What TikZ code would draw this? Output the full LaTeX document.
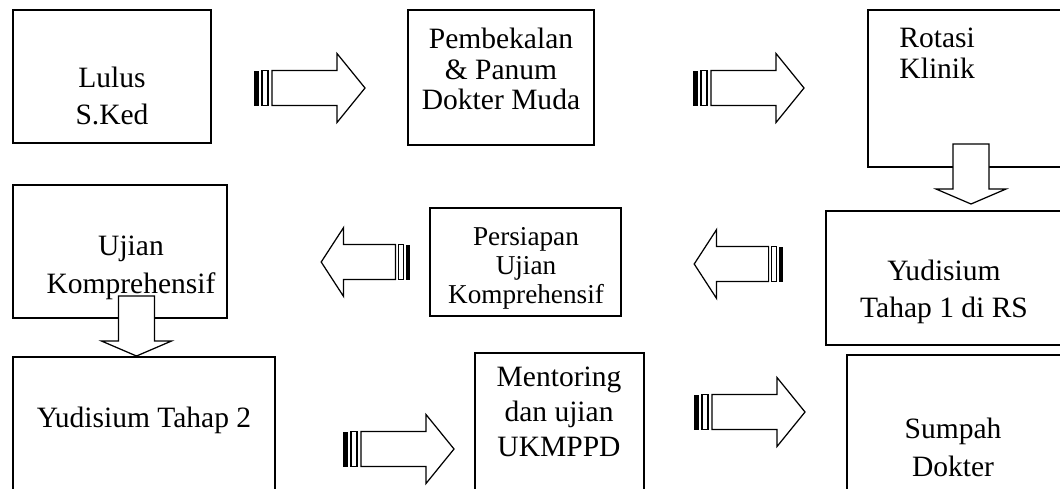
\documentclass[tikz,border=0pt]{standalone}
\usepackage{fontspec}
\setmainfont{Liberation Serif}
\usetikzlibrary{fit}

\tikzset{
  box/.style={draw, line width=1.6pt, inner sep=0pt},
  txt/.style={align=center, font=\fontsize{16.8}{21.5}\selectfont},
  tight/.style={font=\fontsize{16.8}{17.5}\selectfont},
  small/.style={font=\fontsize{15.5}{16.5}\selectfont},
  fatarrow/.pic={
    \fill (0,-17.5) rectangle (5,17.5);
    \draw (8,-17.5) rectangle (14,17.5);
    \draw[fill=white] (18,-17.5) -- (83,-17.5) -- (83,-34.5) -- (111,0)
      -- (83,34.5) -- (83,17.5) -- (18,17.5) -- cycle;
  },
  droparrow/.pic={
    \draw[fill=white] (-18,0) -- (18,0) -- (18,45) -- (35,45) -- (0,60)
      -- (-35,45) -- (-18,45) -- cycle;
  }
}

\begin{document}
\begin{tikzpicture}[x=0.02cm, y=-0.02cm, line width=0.7pt]
  \clip (0,0) rectangle (1060,488);

  % boxes
  \node[box, fit={(13,10) (211,143)}] (lulus) {};
  \node[box, fit={(408,10) (594,145)}] (pembekalan) {};
  \node[box, fit={(868,10) (1080,167)}] (rotasi) {};
  \node[box, fit={(13,185) (227,318)}] (ujian) {};
  \node[box, fit={(430,208) (621,316)}] (persiapan) {};
  \node[box, fit={(826,211) (1080,345)}] (yudisiumA) {};
  \node[box, fit={(13,357) (275,510)}] (yudisiumB) {};
  \node[box, fit={(475,353) (644,510)}] (mentoring) {};
  \node[box, fit={(847,355) (1080,510)}] (sumpah) {};

  % texts
  \node[txt] (lulusT) at (112,96) {Lulus\\S.Ked};
  \node[txt, tight] (pembekalanT) at (501,69) {Pembekalan\\\& Panum\\Dokter Muda};
  \node[txt, tight, align=left, anchor=west] (rotasiT) at (893,53) {Rotasi\\Klinik};
  \node[txt] (ujianT) at (131,268) {Ujian\\Komprehensif};
  \node[txt, small] (persiapanT) at (526,268) {Persiapan\\Ujian\\Komprehensif};
  \node[txt] (yudisiumAT) at (944,292) {Yudisium\\Tahap 1 di RS};
  \node[txt] (yudisiumBT) at (144,420) {Yudisium Tahap 2};
  \node[txt, font=\fontsize{16.8}{20}\selectfont] (mentoringT) at (559,412) {Mentoring\\dan ujian\\UKMPPD};
  \node[txt] (sumpahT) at (953,447) {Sumpah\\Dokter};

  % block arrows
  \pic at (254,88) {fatarrow};
  \pic at (693,88) {fatarrow};
  \pic at (971,144) {droparrow};
  \pic[rotate=180, xscale=0.8] at (783,264) {fatarrow};
  \pic[rotate=180, xscale=0.8] at (410,262) {fatarrow};
  \pic at (136.5,296) {droparrow};
  \pic at (343,449) {fatarrow};
  \pic at (694,412) {fatarrow};
\end{tikzpicture}
\end{document}
